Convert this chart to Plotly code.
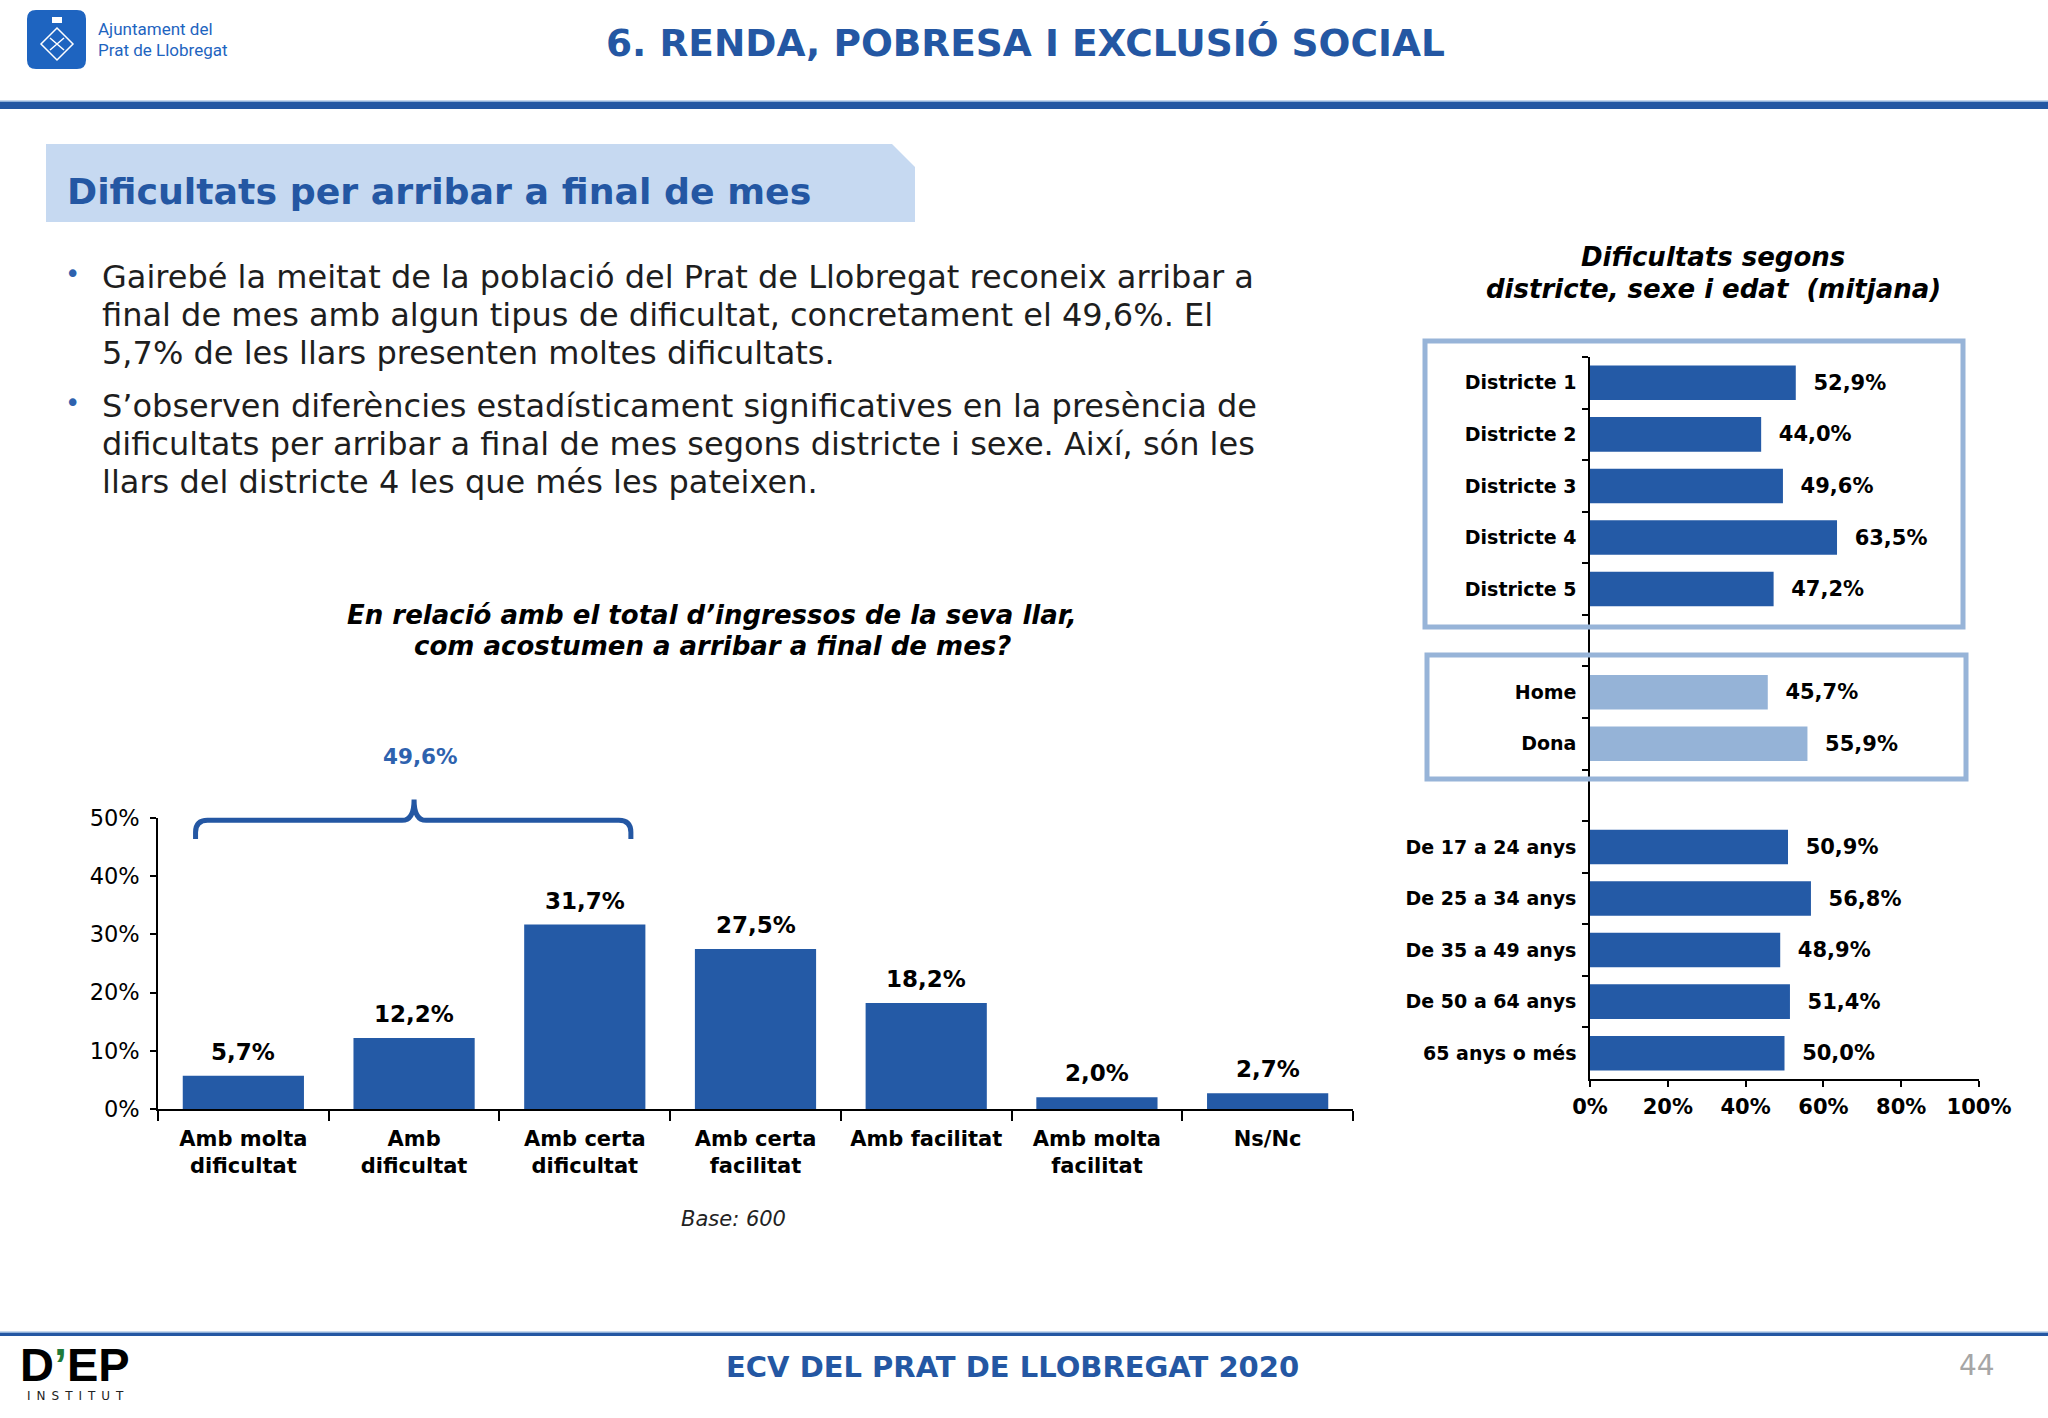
import plotly.graph_objects as go

# ---------------- data ----------------
left_categories = ["Amb molta<br>dificultat", "Amb<br>dificultat", "Amb certa<br>dificultat",
                   "Amb certa<br>facilitat", "Amb facilitat", "Amb molta<br>facilitat", "Ns/Nc"]
left_values = [5.7, 12.2, 31.7, 27.5, 18.2, 2.0, 2.7]
difficulty_group = [0, 1, 2]  # categories summed by the brace

district_labels = ["Districte 1", "Districte 2", "Districte 3", "Districte 4", "Districte 5"]
district_values = [52.9, 44.0, 49.6, 63.5, 47.2]
sex_labels = ["Home", "Dona"]
sex_values = [45.7, 55.9]
age_labels = ["De 17 a 24 anys", "De 25 a 34 anys", "De 35 a 49 anys", "De 50 a 64 anys", "65 anys o més"]
age_values = [50.9, 56.8, 48.9, 51.4, 50.0]

left_yticks = [0, 10, 20, 30, 40, 50]
right_xticks = [0, 20, 40, 60, 80, 100]

# ---------------- style ----------------
W, H = 2048, 1418
DARK = "#245AA6"
LIGHT = "#95B3D7"
BOX = "#97B4D8"
TITLE_BLUE = "#2457A3"
FONT = "DejaVu Sans"


def pct(v):
    return f"{v:.1f}".replace(".", ",") + "%"


def px(x):
    return x / W


def py(y):
    return 1 - y / H


fig = go.Figure()

# left chart
L_XDOM = [px(158), px(1353)]
L_YDOM = [py(1109), py(818)]
fig.add_trace(go.Bar(
    x=left_categories, y=left_values, xaxis="x", yaxis="y",
    marker=dict(color=DARK, line=dict(width=0)), width=0.71,
    hoverinfo="skip",
))

# right chart
cat_order = district_labels + [" "] + sex_labels + ["  "] + age_labels
R_XDOM = [px(1590), px(1979)]
R_YDOM = [py(1079), py(357)]
for labels, values, col in [(district_labels, district_values, DARK),
                            (sex_labels, sex_values, LIGHT),
                            (age_labels, age_values, DARK)]:
    fig.add_trace(go.Bar(
        y=labels, x=values, orientation="h", xaxis="x2", yaxis="y2",
        marker=dict(color=col, line=dict(width=0)), width=0.67,
        text=["  " + pct(v) for v in values], textposition="outside", cliponaxis=False,
        textfont=dict(family=FONT, size=21, color="black", weight="bold"),
        hoverinfo="skip",
    ))

axis_common = dict(showgrid=False, zeroline=False, showline=True, linecolor="black",
                   linewidth=1.5, ticks="outside", tickcolor="black", tickwidth=1.5,
                   automargin=False, fixedrange=True)

fig.update_layout(
    template="none",
    autosize=True, margin=dict(l=0, r=0, t=0, b=0, pad=0, autoexpand=False),
    paper_bgcolor="white", plot_bgcolor="white", showlegend=False,
    barmode="overlay",
    xaxis=dict(domain=L_XDOM, anchor="y", type="category", tickson="boundaries", ticklen=10,
               ticklabelstandoff=10,
               tickfont=dict(family=FONT, size=21, color="black", weight="bold"),
               range=[-0.5, len(left_categories) - 0.5], **axis_common),
    yaxis=dict(domain=L_YDOM, anchor="x", range=[0, 50], tickvals=left_yticks,
               ticktext=[f"{t}%" for t in left_yticks], ticklen=6, ticklabelstandoff=6,
               tickfont=dict(family=FONT, size=22.5, color="black"), **axis_common),
    xaxis2=dict(domain=R_XDOM, anchor="y2", range=[0, 100], tickvals=right_xticks,
                ticktext=[f"{t}%" for t in right_xticks], ticklen=6, ticklabelstandoff=2,
                tickfont=dict(family=FONT, size=21, color="black", weight="bold"), **axis_common),
    yaxis2=dict(domain=R_YDOM, anchor="x2", type="category", categoryorder="array",
                categoryarray=cat_order, range=[len(cat_order) - 0.5, -0.5],
                tickson="boundaries", ticklen=6, ticklabelstandoff=8,
                tickfont=dict(family=FONT, size=19, color="black", weight="bold"), **axis_common),
)

shapes = []
ann = []

# ---------- header ----------
shapes.append(dict(type="rect", xref="paper", yref="paper", x0=0, x1=1, y0=py(109), y1=py(102),
                   fillcolor="#2457A3", line=dict(width=0)))
shapes.append(dict(type="rect", xref="paper", yref="paper", x0=0, x1=1, y0=py(102), y1=py(100.5),
                   fillcolor="#8FB0DA", line=dict(width=0)))
# logo square (rounded)
x0, x1, y0, y1, r = 27, 86, 10, 69, 9
path = (f"M {px(x0+r)},{py(y0)} L {px(x1-r)},{py(y0)} Q {px(x1)},{py(y0)} {px(x1)},{py(y0+r)} "
        f"L {px(x1)},{py(y1-r)} Q {px(x1)},{py(y1)} {px(x1-r)},{py(y1)} L {px(x0+r)},{py(y1)} "
        f"Q {px(x0)},{py(y1)} {px(x0)},{py(y1-r)} L {px(x0)},{py(y0+r)} Q {px(x0)},{py(y0)} {px(x0+r)},{py(y0)} Z")
shapes.append(dict(type="path", xref="paper", yref="paper", path=path, fillcolor="#1E64C0",
                   line=dict(width=0)))
cx, cy = 57, 44
shapes.append(dict(type="path", xref="paper", yref="paper",
                   path=f"M {px(cx)},{py(cy-16)} L {px(cx+16)},{py(cy)} L {px(cx)},{py(cy+16)} L {px(cx-16)},{py(cy)} Z",
                   line=dict(color="white", width=1.5)))
shapes.append(dict(type="path", xref="paper", yref="paper",
                   path=f"M {px(cx-7)},{py(cy-6)} L {px(cx+7)},{py(cy+6)} M {px(cx+7)},{py(cy-6)} L {px(cx-7)},{py(cy+6)}",
                   line=dict(color="white", width=1.5)))
shapes.append(dict(type="rect", xref="paper", yref="paper", x0=px(cx-5), x1=px(cx+5), y0=py(23), y1=py(17),
                   fillcolor="white", line=dict(width=0)))
ann.append(dict(text="Ajuntament del", x=px(96), y=py(29), xanchor="left", yanchor="middle",
                font=dict(family="Liberation Sans Narrow, Roboto", size=17, color="#1E64C0")))
ann.append(dict(text="Prat de Llobregat", x=px(96), y=py(50), xanchor="left", yanchor="middle",
                font=dict(family="Liberation Sans Narrow, Roboto", size=17, color="#1E64C0")))
ann.append(dict(text="6. RENDA, POBRESA I EXCLUSIÓ SOCIAL", x=px(1025), y=py(43), xanchor="center",
                yanchor="middle", font=dict(family=FONT, size=37.5, color=TITLE_BLUE, weight="bold")))

# ---------- section title ----------
shapes.append(dict(type="path", xref="paper", yref="paper",
                   path=f"M {px(46)},{py(144)} L {px(892)},{py(144)} L {px(915)},{py(167)} L {px(915)},{py(222)} L {px(46)},{py(222)} Z",
                   fillcolor="#C6D9F1", line=dict(width=0), layer="below"))
ann.append(dict(text="Dificultats per arribar a final de mes", x=px(65), y=py(191), xanchor="left",
                yanchor="middle", font=dict(family=FONT, size=36.3, color=TITLE_BLUE, weight="bold")))

# ---------- bullets ----------
lines = [
    ("Gairebé la meitat de la població del Prat de Llobregat reconeix arribar a", 277, True),
    ("final de mes amb algun tipus de dificultat, concretament el 49,6%. El", 315, False),
    ("5,7% de les llars presenten moltes dificultats.", 353, False),
    ("S’observen diferències estadísticament significatives en la presència de", 406, True),
    ("dificultats per arribar a final de mes segons districte i sexe. Així, són les", 444, False),
    ("llars del districte 4 les que més les pateixen.", 482, False),
]
for txt, yy, bullet in lines:
    ann.append(dict(text=txt, x=px(100), y=py(yy), xanchor="left", yanchor="middle",
                    font=dict(family=FONT, size=32, color="#1E1E1E")))
    if bullet:
        ann.append(dict(text="•", x=px(72), y=py(yy - 3), xanchor="center", yanchor="middle",
                        font=dict(family=FONT, size=26, color="#2E62AE")))

# ---------- left chart title / base ----------
for txt, yy in [("En relació amb el total d’ingressos de la seva llar,", 615),
                ("com acostumen a arribar a final de mes?", 646)]:
    ann.append(dict(text=txt, x=px(712), y=py(yy), xanchor="center", yanchor="middle",
                    font=dict(family=FONT, size=26, color="black", weight="bold", style="italic")))
ann.append(dict(text="Base: 600", x=px(733), y=py(1219), xanchor="center", yanchor="middle",
                font=dict(family=FONT, size=21, color="#222222", style="italic")))

# ---------- brace over first three categories ----------
n = len(left_categories)


def cat_x(i):
    return L_XDOM[0] + (i + 0.5) / n * (L_XDOM[1] - L_XDOM[0])


def val_y(v):
    return L_YDOM[0] + v / 50 * (L_YDOM[1] - L_YDOM[0])


xl = cat_x(difficulty_group[0] - 0.28)
xr = cat_x(difficulty_group[-1] + 0.27)
xc = cat_x(difficulty_group[1])
yb, yh, ypk = val_y(46.4), val_y(49.6), val_y(53.2)
rx, ry = px(12), 12 / H
brace = (f"M {xl},{yb} L {xl},{yh-ry} Q {xl},{yh} {xl+rx},{yh} L {xc-rx},{yh} "
         f"Q {xc},{yh} {xc},{ypk} Q {xc},{yh} {xc+rx},{yh} L {xr-rx},{yh} "
         f"Q {xr},{yh} {xr},{yh-ry} L {xr},{yb}")
shapes.append(dict(type="path", xref="paper", yref="paper", path=brace,
                   line=dict(color="#2457A3", width=5)))
ann.append(dict(text=pct(sum(left_values[i] for i in difficulty_group)), x=xc + px(6), y=val_y(60.6),
                xanchor="center", yanchor="middle",
                font=dict(family=FONT, size=21.5, color="#2E62AE", weight="bold")))

# ---------- right chart title & boxes ----------
for txt, yy in [("Dificultats segons", 257), ("districte, sexe i edat\u00a0\u00a0(mitjana)", 289)]:
    ann.append(dict(text=txt, x=px(1713), y=py(yy), xanchor="center", yanchor="middle",
                    font=dict(family=FONT, size=26, color="black", weight="bold", style="italic")))
shapes.append(dict(type="rect", xref="paper", yref="paper", x0=px(1425), x1=px(1963), y0=py(627),
                   y1=py(341), line=dict(color=BOX, width=5)))
shapes.append(dict(type="rect", xref="paper", yref="paper", x0=px(1427), x1=px(1966), y0=py(779),
                   y1=py(655), line=dict(color=BOX, width=5)))

# ---------- footer ----------
shapes.append(dict(type="rect", xref="paper", yref="paper", x0=0, x1=1, y0=py(1336), y1=py(1333),
                   fillcolor="#2457A3", line=dict(width=0)))
shapes.append(dict(type="rect", xref="paper", yref="paper", x0=0, x1=1, y0=py(1333), y1=py(1331.5),
                   fillcolor="#8FB0DA", line=dict(width=0)))
ann.append(dict(text="ECV DEL PRAT DE LLOBREGAT 2020", x=px(1012), y=py(1367), xanchor="center",
                yanchor="middle", font=dict(family=FONT, size=29, color=TITLE_BLUE, weight="bold")))
ann.append(dict(text="44", x=px(1977), y=py(1365), xanchor="center", yanchor="middle",
                font=dict(family=FONT, size=28, color="#A6A6A6")))
ann.append(dict(text="D<span style='color:#1E7B3A'>’</span>EP", x=px(75), y=py(1364), xanchor="center",
                yanchor="middle",
                font=dict(family="Liberation Sans", size=47, color="black", weight="bold")))
ann.append(dict(text="I\u2002N\u2002S\u2002T\u2002I\u2002T\u2002U\u2002T", x=px(75), y=py(1396),
                xanchor="center", yanchor="middle",
                font=dict(family=FONT, size=12, color="#222222")))

for a in ann:
    a.update(xref="paper", yref="paper", showarrow=False)

# value labels of the left chart, anchored to the data
for cat, v in zip(left_categories, left_values):
    ann.append(dict(text=pct(v), x=cat, y=v, xref="x", yref="y", showarrow=False,
                    xanchor="center", yanchor="bottom", yshift=9,
                    font=dict(family=FONT, size=23, color="black", weight="bold")))

fig.update_layout(shapes=shapes, annotations=ann)

post = ("document.documentElement.style.margin='0';document.body.style.margin='0';"
        "document.documentElement.style.overflow='hidden';document.body.style.overflow='hidden';"
        "var gd=document.getElementById('{plot_id}');gd.style.width='100vw';gd.style.height='100vh';"
        "Plotly.Plots.resize(gd);")
fig.write_html("out.html", default_width="100vw", default_height="100vh", post_script=post,
               config={"responsive": True, "displayModeBar": False})
